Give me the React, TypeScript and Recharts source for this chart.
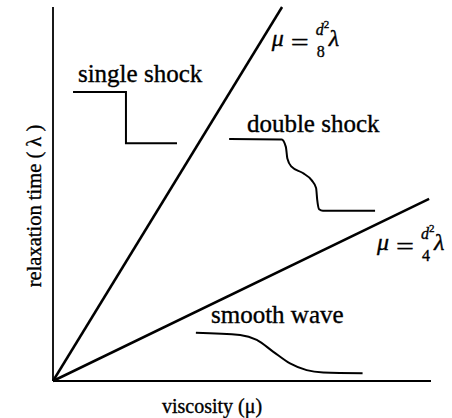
import { ComposedChart, Line, XAxis, YAxis, ReferenceDot, Label } from 'recharts';

// boundary lines through the origin (data units: 0..100 on both axes)
const lineEighth = [
  { x: 0, y: 0 },
  { x: 60.6, y: 100 },
];
const lineQuarter = [
  { x: 0, y: 0 },
  { x: 99.5, y: 48.7 },
];

// sketched wave profiles
const singleShock = [
  { x: 5.3, y: 77.3 },
  { x: 19.3, y: 77.3 },
  { x: 19.3, y: 63.6 },
  { x: 32.8, y: 63.6 },
];
const doubleShock = [
  { x: 46.6, y: 64.7 },
  { x: 60.5, y: 64.6 },
  { x: 61.6, y: 62.6 },
  { x: 62.0, y: 59.5 },
  { x: 63.1, y: 57.3 },
  { x: 66.1, y: 55.6 },
  { x: 68.4, y: 53.7 },
  { x: 69.6, y: 51.6 },
  { x: 69.9, y: 48.4 },
  { x: 70.4, y: 45.9 },
  { x: 71.4, y: 45.5 },
  { x: 85.2, y: 45.5 },
];
const smoothWave = [
  { x: 37.8, y: 12.9 },
  { x: 49.5, y: 12.3 },
  { x: 53.9, y: 11.0 },
  { x: 58.3, y: 7.8 },
  { x: 62.7, y: 4.7 },
  { x: 67.1, y: 2.9 },
  { x: 71.5, y: 2.3 },
  { x: 81.9, y: 2.1 },
];

const curveLabels = [
  { text: 'single shock', x: 6.6, y: 79.9 },
  { text: 'double shock', x: 51.3, y: 66.6 },
  { text: 'smooth wave', x: 41.8, y: 15.5 },
];
const boundaryLabels = [
  { denom: '8', x: 57.9, y: 89.6 },
  { denom: '4', x: 85.7, y: 35.0 },
];

const xTitle = 'viscosity (\u03bc)';
const yTitle = 'relaxation time ( \u03bb )';

const SERIF = 'Liberation Serif';
// scanned original has slightly heavy glyphs
const ink = { fill: '#000', stroke: '#000', strokeWidth: 0.35 };

function Formula({ cx, cy, denom }: { cx: number; cy: number; denom: string }) {
  return (
    <g {...ink}>
      <text x={cx} y={cy} fontFamily={SERIF} fontSize={24} fontStyle="italic">
        μ
      </text>
      <text x={cx + 19} y={cy + 4} fontFamily={SERIF} fontSize={24} textLength={18} lengthAdjust="spacingAndGlyphs">
        =
      </text>
      <text x={cx + 44} y={cy - 11} fontFamily={SERIF} fontSize={16} fontStyle="italic">
        d
      </text>
      <text x={cx + 52} y={cy - 18} fontFamily={SERIF} fontSize={11}>
        2
      </text>
      <text x={cx + 45} y={cy + 11} fontFamily={SERIF} fontSize={16}>
        {denom}
      </text>
      <text x={cx + 57} y={cy} fontFamily={SERIF} fontSize={24} fontStyle="italic">
        λ
      </text>
    </g>
  );
}

export default function App() {
  return (
    <div style={{ position: 'absolute', left: 0, top: 0, background: '#fff' }}>
      <ComposedChart width={452} height={418} margin={{ top: 7, right: 21, bottom: 36, left: 52 }}>
        <XAxis
          type="number"
          dataKey="x"
          domain={[0, 100]}
          height={1}
          tick={false}
          tickLine={false}
          axisLine={{ stroke: '#000', strokeWidth: 1.8 }}
        >
          <Label
            content={() => (
              <text x={212} y={413} textAnchor="middle" fontFamily={SERIF} fontSize={20} {...ink}>
                {xTitle}
              </text>
            )}
          />
        </XAxis>
        <YAxis
          type="number"
          dataKey="y"
          domain={[0, 100]}
          width={1}
          tick={false}
          tickLine={false}
          axisLine={{ stroke: '#000', strokeWidth: 1.8 }}
        >
          <Label
            content={() => (
              <text
                x={41}
                y={206}
                transform="rotate(-90 41 206)"
                textAnchor="middle"
                fontFamily={SERIF}
                fontSize={20.5}
                {...ink}
              >
                {yTitle}
              </text>
            )}
          />
        </YAxis>
        <Line data={lineEighth} dataKey="y" type="linear" stroke="#000" strokeWidth={2.5} dot={false} isAnimationActive={false} />
        <Line data={lineQuarter} dataKey="y" type="linear" stroke="#000" strokeWidth={2.5} dot={false} isAnimationActive={false} />
        <Line data={singleShock} dataKey="y" type="linear" stroke="#000" strokeWidth={2} dot={false} isAnimationActive={false} />
        <Line data={doubleShock} dataKey="y" type="monotone" stroke="#000" strokeWidth={2} dot={false} isAnimationActive={false} />
        <Line data={smoothWave} dataKey="y" type="monotone" stroke="#000" strokeWidth={2} dot={false} isAnimationActive={false} />
        {curveLabels.map((l) => (
          <ReferenceDot
            key={l.text}
            x={l.x}
            y={l.y}
            r={0}
            fill="none"
            stroke="none"
            label={{
              content: ({ viewBox }: any) => (
                <text x={viewBox.cx ?? viewBox.x} y={viewBox.cy ?? viewBox.y} fontFamily={SERIF} fontSize={25} {...ink}>
                  {l.text}
                </text>
              ),
            }}
          />
        ))}
        {boundaryLabels.map((l) => (
          <ReferenceDot
            key={l.denom}
            x={l.x}
            y={l.y}
            r={0}
            fill="none"
            stroke="none"
            label={{
              content: ({ viewBox }: any) => (
                <Formula cx={viewBox.cx ?? viewBox.x} cy={viewBox.cy ?? viewBox.y} denom={l.denom} />
              ),
            }}
          />
        ))}
      </ComposedChart>
    </div>
  );
}
